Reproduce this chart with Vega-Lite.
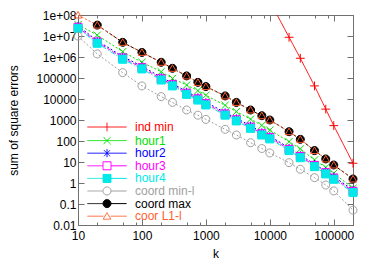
{
  "$schema": "https://vega.github.io/schema/vega-lite/v6.json",
  "width": 275,
  "height": 210,
  "autosize": "none",
  "padding": {"left": 78, "top": 15, "right": 21, "bottom": 37},
  "background": "white",
  "config": {
    "view": {"stroke": "#707070", "strokeWidth": 1},
    "font": "Liberation Sans",
    "axis": {"grid": false, "domain": false, "tickColor": "#707070", "tickWidth": 1, "labelFont": "Liberation Sans", "labelFontSize": 12, "labelColor": "black", "titleFont": "Liberation Sans", "titleFontSize": 12, "titleFontWeight": "normal", "titleColor": "black"}
  },
  "data": {
    "values": [
      {"series": "ind min", "k": 10000, "v": 450000000},
      {"series": "ind min", "k": 20000, "v": 8700000},
      {"series": "ind min", "k": 30000, "v": 870000},
      {"series": "ind min", "k": 50000, "v": 42000},
      {"series": "ind min", "k": 75000, "v": 3300},
      {"series": "ind min", "k": 100000, "v": 540},
      {"series": "ind min", "k": 200000, "v": 8.7},

      {"series": "hour1", "k": 10, "v": 35000000},
      {"series": "hour1", "k": 20, "v": 11000000},
      {"series": "hour1", "k": 50, "v": 1800000},
      {"series": "hour1", "k": 100, "v": 560000},
      {"series": "hour1", "k": 200, "v": 200000},
      {"series": "hour1", "k": 300, "v": 95000},
      {"series": "hour1", "k": 500, "v": 46000},
      {"series": "hour1", "k": 750, "v": 25000},
      {"series": "hour1", "k": 1000, "v": 15000},
      {"series": "hour1", "k": 2000, "v": 5000},
      {"series": "hour1", "k": 3000, "v": 2500},
      {"series": "hour1", "k": 5000, "v": 1100},
      {"series": "hour1", "k": 7500, "v": 550},
      {"series": "hour1", "k": 10000, "v": 330},
      {"series": "hour1", "k": 20000, "v": 93},
      {"series": "hour1", "k": 30000, "v": 42},
      {"series": "hour1", "k": 50000, "v": 12.6},
      {"series": "hour1", "k": 75000, "v": 5.5},
      {"series": "hour1", "k": 100000, "v": 2.9},
      {"series": "hour1", "k": 200000, "v": 0.56},

      {"series": "hour2", "k": 10, "v": 30000000},
      {"series": "hour2", "k": 20, "v": 6000000},
      {"series": "hour2", "k": 50, "v": 1050000},
      {"series": "hour2", "k": 100, "v": 360000},
      {"series": "hour2", "k": 200, "v": 110000},
      {"series": "hour2", "k": 300, "v": 56000},
      {"series": "hour2", "k": 500, "v": 22000},
      {"series": "hour2", "k": 750, "v": 12000},
      {"series": "hour2", "k": 1000, "v": 7000},
      {"series": "hour2", "k": 2000, "v": 2300},
      {"series": "hour2", "k": 3000, "v": 1200},
      {"series": "hour2", "k": 5000, "v": 540},
      {"series": "hour2", "k": 7500, "v": 260},
      {"series": "hour2", "k": 10000, "v": 170},
      {"series": "hour2", "k": 20000, "v": 47},
      {"series": "hour2", "k": 30000, "v": 21},
      {"series": "hour2", "k": 50000, "v": 8},
      {"series": "hour2", "k": 75000, "v": 3.6},
      {"series": "hour2", "k": 100000, "v": 2},
      {"series": "hour2", "k": 200000, "v": 0.47},

      {"series": "hour3", "k": 10, "v": 26000000},
      {"series": "hour3", "k": 20, "v": 5200000},
      {"series": "hour3", "k": 50, "v": 900000},
      {"series": "hour3", "k": 100, "v": 310000},
      {"series": "hour3", "k": 200, "v": 92000},
      {"series": "hour3", "k": 300, "v": 48000},
      {"series": "hour3", "k": 500, "v": 19000},
      {"series": "hour3", "k": 750, "v": 10200},
      {"series": "hour3", "k": 1000, "v": 6000},
      {"series": "hour3", "k": 2000, "v": 1950},
      {"series": "hour3", "k": 3000, "v": 1030},
      {"series": "hour3", "k": 5000, "v": 460},
      {"series": "hour3", "k": 7500, "v": 222},
      {"series": "hour3", "k": 10000, "v": 145},
      {"series": "hour3", "k": 20000, "v": 40},
      {"series": "hour3", "k": 30000, "v": 18.4},
      {"series": "hour3", "k": 50000, "v": 6.9},
      {"series": "hour3", "k": 75000, "v": 3.1},
      {"series": "hour3", "k": 100000, "v": 1.72},
      {"series": "hour3", "k": 200000, "v": 0.4},

      {"series": "hour4", "k": 10, "v": 23000000},
      {"series": "hour4", "k": 20, "v": 4500000},
      {"series": "hour4", "k": 50, "v": 780000},
      {"series": "hour4", "k": 100, "v": 270000},
      {"series": "hour4", "k": 200, "v": 80000},
      {"series": "hour4", "k": 300, "v": 42000},
      {"series": "hour4", "k": 500, "v": 16600},
      {"series": "hour4", "k": 750, "v": 8900},
      {"series": "hour4", "k": 1000, "v": 5200},
      {"series": "hour4", "k": 2000, "v": 1700},
      {"series": "hour4", "k": 3000, "v": 900},
      {"series": "hour4", "k": 5000, "v": 400},
      {"series": "hour4", "k": 7500, "v": 193},
      {"series": "hour4", "k": 10000, "v": 126},
      {"series": "hour4", "k": 20000, "v": 35},
      {"series": "hour4", "k": 30000, "v": 16},
      {"series": "hour4", "k": 50000, "v": 6},
      {"series": "hour4", "k": 75000, "v": 2.7},
      {"series": "hour4", "k": 100000, "v": 1.5},
      {"series": "hour4", "k": 200000, "v": 0.35},

      {"series": "coord min-l", "k": 10, "v": 10000000},
      {"series": "coord min-l", "k": 20, "v": 1400000},
      {"series": "coord min-l", "k": 50, "v": 180000},
      {"series": "coord min-l", "k": 100, "v": 42000},
      {"series": "coord min-l", "k": 200, "v": 13000},
      {"series": "coord min-l", "k": 300, "v": 6900},
      {"series": "coord min-l", "k": 500, "v": 3000},
      {"series": "coord min-l", "k": 750, "v": 1700},
      {"series": "coord min-l", "k": 1000, "v": 1070},
      {"series": "coord min-l", "k": 2000, "v": 360},
      {"series": "coord min-l", "k": 3000, "v": 193},
      {"series": "coord min-l", "k": 5000, "v": 83},
      {"series": "coord min-l", "k": 7500, "v": 44},
      {"series": "coord min-l", "k": 10000, "v": 27},
      {"series": "coord min-l", "k": 20000, "v": 9.3},
      {"series": "coord min-l", "k": 30000, "v": 4.5},
      {"series": "coord min-l", "k": 50000, "v": 1.8},
      {"series": "coord min-l", "k": 75000, "v": 0.8},
      {"series": "coord min-l", "k": 100000, "v": 0.42},
      {"series": "coord min-l", "k": 200000, "v": 0.051},

      {"series": "coord max", "k": 20, "v": 33000000},
      {"series": "coord max", "k": 50, "v": 5000000},
      {"series": "coord max", "k": 100, "v": 1660000},
      {"series": "coord max", "k": 200, "v": 560000},
      {"series": "coord max", "k": 300, "v": 290000},
      {"series": "coord max", "k": 500, "v": 126000},
      {"series": "coord max", "k": 750, "v": 62000},
      {"series": "coord max", "k": 1000, "v": 39000},
      {"series": "coord max", "k": 2000, "v": 14000},
      {"series": "coord max", "k": 3000, "v": 6900},
      {"series": "coord max", "k": 5000, "v": 3000},
      {"series": "coord max", "k": 7500, "v": 1600},
      {"series": "coord max", "k": 10000, "v": 1000},
      {"series": "coord max", "k": 20000, "v": 277},
      {"series": "coord max", "k": 30000, "v": 120},
      {"series": "coord max", "k": 50000, "v": 35},
      {"series": "coord max", "k": 75000, "v": 14},
      {"series": "coord max", "k": 100000, "v": 7.2},
      {"series": "coord max", "k": 200000, "v": 1.55},

      {"series": "coor L1-l", "k": 10, "v": 100000000},
      {"series": "coor L1-l", "k": 20, "v": 33000000},
      {"series": "coor L1-l", "k": 50, "v": 5000000},
      {"series": "coor L1-l", "k": 100, "v": 1660000},
      {"series": "coor L1-l", "k": 200, "v": 560000},
      {"series": "coor L1-l", "k": 300, "v": 290000},
      {"series": "coor L1-l", "k": 500, "v": 126000},
      {"series": "coor L1-l", "k": 750, "v": 62000},
      {"series": "coor L1-l", "k": 1000, "v": 39000},
      {"series": "coor L1-l", "k": 2000, "v": 14000},
      {"series": "coor L1-l", "k": 3000, "v": 6900},
      {"series": "coor L1-l", "k": 5000, "v": 3000},
      {"series": "coor L1-l", "k": 7500, "v": 1600},
      {"series": "coor L1-l", "k": 10000, "v": 1000},
      {"series": "coor L1-l", "k": 20000, "v": 277},
      {"series": "coor L1-l", "k": 30000, "v": 120},
      {"series": "coor L1-l", "k": 50000, "v": 35},
      {"series": "coor L1-l", "k": 75000, "v": 14},
      {"series": "coor L1-l", "k": 100000, "v": 7.2},
      {"series": "coor L1-l", "k": 200000, "v": 1.55}
    ]
  },
  "layer": [
    {
      "mark": {"type": "line", "clip": true, "strokeWidth": 1},
      "encoding": {
        "x": {
          "field": "k", "type": "quantitative",
          "scale": {"type": "log", "domain": [10, 200000], "nice": false},
          "axis": {
            "orient": "bottom",
            "values": [10, 20, 50, 80, 100, 200, 500, 800, 1000, 2000, 5000, 8000, 10000, 20000, 50000, 80000, 100000, 200000],
            "format": "d",
            "labelExpr": "indexof([10,100,1000,10000,100000], datum.value) >= 0 ? datum.label : ''",
            "labelFlush": false,
            "labelOverlap": false,
            "tickSize": {"condition": {"test": "indexof([10,100,1000,10000,100000], datum.value) < 0", "value": -3}, "value": -6},
            "labelPadding": 11,
            "title": "k",
            "titleY": 28,
            "titleBaseline": "middle"
          }
        },
        "y": {
          "field": "v", "type": "quantitative",
          "scale": {"type": "log", "domain": [0.01, 100000000], "nice": false},
          "axis": {
            "orient": "left",
            "values": [0.01, 0.1, 1, 10, 100, 1000, 10000, 100000, 1000000, 10000000, 100000000],
            "labelExpr": "datum.value >= 1000000 ? '1e+0' + round(log(datum.value)/LN10) : datum.value >= 1 ? format(datum.value, 'd') : (datum.value < 0.05 ? '0.01' : '0.1')",
            "labelOverlap": false,
            "tickSize": -6,
            "labelPadding": 8,
            "title": "sum of square errors",
            "titleX": -65,
            "titleY": 105,
            "titleBaseline": "middle",
            "titleAlign": "center",
            "titleAngle": 270
          }
        },
        "stroke": {
          "field": "series", "type": "nominal",
          "scale": {"domain": ["ind min", "hour1", "hour2", "hour3", "hour4", "coord min-l", "coord max", "coor L1-l"],
                    "range": ["#ff0000", "#00e000", "#0000ff", "#ff00ff", "#00e8e8", "#a0a0a0", "#000000", "#ff6030"]},
          "legend": {
            "orient": "none",
            "legendX": 23,
            "legendY": 106,
            "title": null,
            "padding": 0,
            "symbolSize": 64,
            "labelFont": "Liberation Sans",
            "labelFontSize": 12,
            "labelOffset": 22,
            "rowPadding": 0.6,
            "symbolStrokeWidth": 1,
            "encode": {
              "symbols": {
                "update": {
                  "shape": {"signal": "['M-4.9,0L4.9,0M0,-1.1L0,1.1', 'M-4.9,0L4.9,0M-0.9,-0.9L0.9,0.9M-0.9,0.9L0.9,-0.9', 'M-4.9,0L4.9,0M0,-1L0,1M-0.75,-0.75L0.75,0.75M-0.75,0.75L0.75,-0.75', 'M-4.9,0L-1,0M1,0L4.9,0M-1,-1L1,-1L1,1L-1,1Z', 'M-4.9,0L-1,0M1,0L4.9,0M-1,-1L1,-1L1,1L-1,1Z', 'M-4.9,0L-1,0M1,0L4.9,0M1,0A1,1,0,1,1,-1,0A1,1,0,1,1,1,0Z', 'M-4.9,0L-1,0M1,0L4.9,0M1,0A1,1,0,1,1,-1,0A1,1,0,1,1,1,0Z', 'M-4.9,0L-0.9,0M0.9,0L4.9,0M0,-0.9L0.95,0.75L-0.95,0.75Z'][indexof(['ind min','hour1','hour2','hour3','hour4','coord min-l','coord max','coor L1-l'], datum.value)]"},
                  "fill": {"signal": "scale('fill', datum.value)"},
                  "size": {"value": 64},
                  "opacity": {"value": 1},
                  "strokeWidth": {"value": 1},
                  "strokeDash": {"value": [1, 0]}
                }
              },
              "labels": {
                "update": {
                  "fill": {"signal": "scale('stroke', datum.value)"}
                }
              }
            }
          }
        },
        "strokeDash": {
          "field": "series", "type": "nominal",
          "scale": {"domain": ["coor L1-l", "coord max", "coord min-l", "hour4", "hour3", "hour2", "hour1", "ind min"],
                    "range": [[2, 2], [3, 2], [2, 2], [5, 2, 1, 2], [4, 2], [2, 2], [2, 2], [1, 0]]},
          "legend": null
        }
      }
    },
    {
      "transform": [{"filter": "datum.v <= 100000000"}],
      "mark": {"type": "point", "clip": false, "size": 64, "strokeWidth": 1, "opacity": 1},
      "encoding": {
        "x": {
          "field": "k", "type": "quantitative",
          "axis": {
            "orient": "top",
            "values": [10, 20, 50, 80, 100, 200, 500, 800, 1000, 2000, 5000, 8000, 10000, 20000, 50000, 80000, 100000, 200000],
            "labels": false,
            "tickSize": {"condition": {"test": "indexof([10,100,1000,10000,100000], datum.value) < 0", "value": -3}, "value": -6},
            "title": null
          }
        },
        "y": {
          "field": "v", "type": "quantitative",
          "axis": {
            "orient": "right",
            "values": [0.01, 0.1, 1, 10, 100, 1000, 10000, 100000, 1000000, 10000000, 100000000],
            "labels": false,
            "tickSize": -6,
            "title": null
          }
        },
        "stroke": {"field": "series", "type": "nominal"},
        "fill": {
          "field": "series", "type": "nominal",
          "scale": {"domain": ["coor L1-l", "coord max", "coord min-l", "hour4", "hour3", "hour2", "hour1", "ind min"],
                    "range": ["transparent", "#000000", "transparent", "#00e8e8", "transparent", "transparent", "transparent", "transparent"]},
          "legend": null
        },
        "shape": {
          "field": "series", "type": "nominal",
          "scale": {"domain": ["coor L1-l", "coord max", "coord min-l", "hour4", "hour3", "hour2", "hour1", "ind min"],
                    "range": ["M0,-0.9L0.95,0.75L-0.95,0.75Z", "M1,0A1,1,0,1,1,-1,0A1,1,0,1,1,1,0Z", "M1,0A1,1,0,1,1,-1,0A1,1,0,1,1,1,0Z", "M-1,-1L1,-1L1,1L-1,1Z", "M-1,-1L1,-1L1,1L-1,1Z", "M-1,0L1,0M0,-1L0,1M-0.75,-0.75L0.75,0.75M-0.75,0.75L0.75,-0.75", "M-0.9,-0.9L0.9,0.9M-0.9,0.9L0.9,-0.9", "M-1.1,0L1.1,0M0,-1.1L0,1.1"]},
          "legend": null
        }
      }
    }
  ],
  "resolve": {"axis": {"x": "independent", "y": "independent"}}
}
